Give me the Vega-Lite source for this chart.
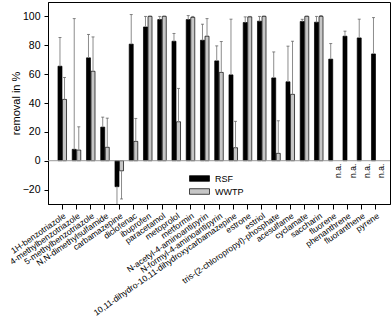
{
  "$schema": "https://vega.github.io/schema/vega-lite/v6.json",
  "width": 342,
  "height": 202,
  "autosize": {"type": "none"},
  "padding": {"left": 48, "top": 2, "right": 2, "bottom": 112},
  "config": {
    "font": "Liberation Sans",
    "view": {"stroke": "black", "strokeWidth": 1},
    "axis": {"grid": false, "domainColor": "black", "tickColor": "black", "labelColor": "black", "titleColor": "black", "labelFont": "Liberation Sans", "titleFont": "Liberation Sans"},
    "axisY": {"labelOverlap": false, "labelBound": false}
  },
  "datasets": {
    "removal": [
      {"compound": "1H-benzotriazole", "group": "RSF", "value": 65.5, "err": 85.4},
      {"compound": "1H-benzotriazole", "group": "WWTP", "value": 42.5, "err": 57.7},
      {"compound": "4-methylbenzotriazole", "group": "RSF", "value": 7.9, "err": 98.5},
      {"compound": "4-methylbenzotriazole", "group": "WWTP", "value": 7.4, "err": 23.5},
      {"compound": "5-methylbenzotriazole", "group": "RSF", "value": 71.3, "err": 87.5},
      {"compound": "5-methylbenzotriazole", "group": "WWTP", "value": 62, "err": 85.8},
      {"compound": "N,N-dimethylsulfamide", "group": "RSF", "value": 23.3, "err": 30.2},
      {"compound": "N,N-dimethylsulfamide", "group": "WWTP", "value": 9.3, "err": 29.5},
      {"compound": "carbamazepine", "group": "RSF", "value": -18, "err": -40},
      {"compound": "carbamazepine", "group": "WWTP", "value": -7, "err": -26.5},
      {"compound": "diclofenac", "group": "RSF", "value": 80.8, "err": 101.3},
      {"compound": "diclofenac", "group": "WWTP", "value": 13.4, "err": 29.3},
      {"compound": "ibuprofen", "group": "RSF", "value": 92.7, "err": 100},
      {"compound": "ibuprofen", "group": "WWTP", "value": 100, "err": 100.3},
      {"compound": "paracetamol", "group": "RSF", "value": 97.8, "err": 100},
      {"compound": "paracetamol", "group": "WWTP", "value": 100, "err": 100.3},
      {"compound": "metoprolol", "group": "RSF", "value": 82.8, "err": 88.2},
      {"compound": "metoprolol", "group": "WWTP", "value": 27, "err": 50.1},
      {"compound": "metformin", "group": "RSF", "value": 97.8, "err": 100.6},
      {"compound": "metformin", "group": "WWTP", "value": 99.3, "err": 100},
      {"compound": "N-acetyl-4-aminoantipyrin", "group": "RSF", "value": 83.5, "err": 94.6},
      {"compound": "N-acetyl-4-aminoantipyrin", "group": "WWTP", "value": 86.3, "err": 98.5},
      {"compound": "N-formyl-4-aminoantipyrin", "group": "RSF", "value": 69.2, "err": 79.6},
      {"compound": "N-formyl-4-aminoantipyrin", "group": "WWTP", "value": 61.2, "err": 82.6},
      {"compound": "10,11-dihydro-10,11-dihydroxycarbamazepine", "group": "RSF", "value": 59.5, "err": 98.1},
      {"compound": "10,11-dihydro-10,11-dihydroxycarbamazepine", "group": "WWTP", "value": 9, "err": 27.3},
      {"compound": "estrone", "group": "RSF", "value": 95.8, "err": 99.7},
      {"compound": "estrone", "group": "WWTP", "value": 99.7, "err": 100},
      {"compound": "estriol", "group": "RSF", "value": 96.7, "err": 100},
      {"compound": "estriol", "group": "WWTP", "value": 100, "err": 100.3},
      {"compound": "tris-(2-chloropropyl)-phosphate", "group": "RSF", "value": 57.4, "err": 75.4},
      {"compound": "tris-(2-chloropropyl)-phosphate", "group": "WWTP", "value": 5.1, "err": 27.7},
      {"compound": "acesulfame", "group": "RSF", "value": 54.7, "err": 79.4},
      {"compound": "acesulfame", "group": "WWTP", "value": 46, "err": 82.8},
      {"compound": "cyclamate", "group": "RSF", "value": 96.5, "err": 98},
      {"compound": "cyclamate", "group": "WWTP", "value": 100, "err": 100.3},
      {"compound": "saccharin", "group": "RSF", "value": 96, "err": 100},
      {"compound": "saccharin", "group": "WWTP", "value": 100, "err": 100.6},
      {"compound": "fluorene", "group": "RSF", "value": 70.4, "err": 81.2},
      {"compound": "fluorene", "group": "WWTP", "value": null, "err": null, "note": "n.a."},
      {"compound": "phenanthrene", "group": "RSF", "value": 86.3, "err": 89.8},
      {"compound": "phenanthrene", "group": "WWTP", "value": null, "err": null, "note": "n.a."},
      {"compound": "fluoranthene", "group": "RSF", "value": 85.1, "err": 98.1},
      {"compound": "fluoranthene", "group": "WWTP", "value": null, "err": null, "note": "n.a."},
      {"compound": "pyrene", "group": "RSF", "value": 74, "err": 99.2},
      {"compound": "pyrene", "group": "WWTP", "value": null, "err": null, "note": "n.a."}
    ]
  },
  "data": {"name": "removal"},
  "layer": [
    {
      "mark": {"type": "bar", "stroke": "black", "strokeWidth": 0.7},
      "encoding": {
        "x": {
          "field": "compound", "type": "nominal", "sort": null,
          "scale": {"paddingInner": 0.4, "paddingOuter": 0.7},
          "axis": {"title": null, "labelAngle": -35, "labelFontSize": 8.5, "labelLimit": 0, "labelColor": "#000000", "tickSize": 5, "labelPadding": 2}
        },
        "xOffset": {"field": "group", "type": "nominal", "sort": ["RSF", "WWTP"], "scale": {"paddingInner": 0.12, "paddingOuter": 0}},
        "y": {
          "field": "value", "type": "quantitative",
          "scale": {"domain": [-30, 110], "nice": false, "zero": false},
          "axis": {"tickCount": 7, "labelOverlap": false, "labelBound": false, "title": "removal in %", "titleFontSize": 11, "titleFontWeight": "normal", "labelFontSize": 10.5, "tickSize": 4, "labelPadding": 4, "titlePadding": 1}
        },
        "y2": {"datum": 0},
        "color": {
          "field": "group", "type": "nominal",
          "scale": {"domain": ["RSF", "WWTP"], "range": ["#000000", "#c6c6c6"]},
          "legend": {"title": null, "orient": "none", "legendX": 147, "legendY": 172, "padding": 0, "symbolType": "M-5,-1.4H5V1.4H-5Z", "symbolSize": 16, "symbolStrokeColor": "black", "symbolStrokeWidth": 0.7, "labelFontSize": 9, "labelOffset": 11, "rowPadding": 3}
        }
      }
    },
    {
      "data": {"values": [{}]},
      "mark": {"type": "rule", "color": "#9a9a9a", "strokeWidth": 1},
      "encoding": {"y": {"datum": 0, "type": "quantitative"}}
    },
    {
      "mark": {"type": "rule", "color": "#8c8c8c", "strokeWidth": 1, "clip": true},
      "encoding": {
        "x": {"field": "compound", "type": "nominal", "sort": null},
        "xOffset": {"field": "group", "type": "nominal", "sort": ["RSF", "WWTP"]},
        "y": {"field": "value", "type": "quantitative"},
        "y2": {"field": "err"}
      }
    },
    {
      "mark": {"type": "tick", "color": "#555555", "thickness": 1, "size": 3, "clip": true},
      "encoding": {
        "x": {"field": "compound", "type": "nominal", "sort": null},
        "xOffset": {"field": "group", "type": "nominal", "sort": ["RSF", "WWTP"]},
        "y": {"field": "err", "type": "quantitative"}
      }
    },
    {
      "transform": [{"filter": "datum.note != null"}],
      "mark": {"type": "text", "angle": 270, "align": "right", "baseline": "middle", "fontSize": 8.5, "dx": -3, "dy": 3, "color": "black"},
      "encoding": {
        "x": {"field": "compound", "type": "nominal", "sort": null},
        "xOffset": {"field": "group", "type": "nominal", "sort": ["RSF", "WWTP"]},
        "y": {"datum": 0, "type": "quantitative"},
        "text": {"field": "note"}
      }
    }
  ]
}
